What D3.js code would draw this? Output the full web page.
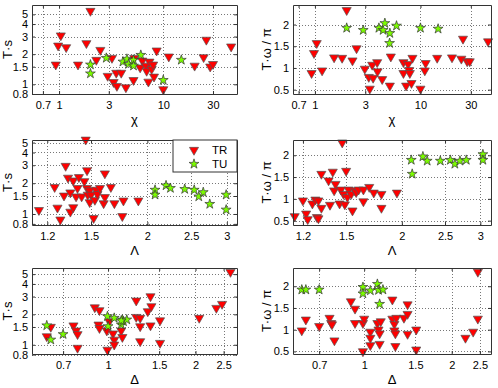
<!DOCTYPE html>
<html>
<head>
<meta charset="utf-8">
<script src="https://cdn.jsdelivr.net/npm/d3@7"></script>
<style>
body { margin: 0; background: #fff; }
text { font-family: "Liberation Sans", Arial, sans-serif; fill: #000; }
</style>
</head>
<body>
<div id="fig"></div>
<script>
// tick values
var chiTicks = [0.7, 1, 3, 10, 30];
var lamTicks = [1.2, 1.5, 2, 2.5, 3];
var delTicks = [0.7, 1, 1.5, 2, 2.5];
var tsTicks = [0.8, 1, 1.5, 2, 3, 4, 5];
var twTicks = [0.5, 1, 1.5, 2];

// T·s vs chi
var tsChiTR = [[0.93,1.57],[0.98,2.43],[1.04,3.07],[1.17,2.34],[1.52,1.57],[1.83,2.57],[2.0,5.4],[2.28,1.75],
  [2.49,2.2],[2.93,1.21],[3.22,1.83],[3.34,1.05],[3.54,1.3],[3.59,0.96],[3.95,1.3],[4.38,0.93],[5.18,1.1],
  [5.26,1.83],[6.0,1.47],[6.3,1.72],[6.84,1.53],[6.93,1.36],[7.2,1.06],[7.37,1.68],[7.74,1.42],[8.0,1.57],
  [8.15,1.19],[8.64,2.17],[10,0.89],[11.3,1.89],[20,1.53],[24.4,1.86],[25.9,2.78],[28.2,1.5],[30,1.59],[44.8,2.38]];
var tsChiTU = [[2.0,1.57],[2.0,1.28],[2.84,1.83],[4.1,1.68],[4.48,1.79],[4.65,1.59],[5.18,1.75],[5.18,1.53],
  [6.09,1.96],[10,1.1],[14.9,1.75]];

// T·w/pi vs chi
var twChiTR = [[0.93,0.88],[0.98,1.34],[1.04,1.57],[1.17,0.94],[1.52,1.24],[1.81,1.23],[2.0,2.33],[2.27,1.17],
  [2.48,1.45],[2.97,0.98],[3.24,0.79],[3.31,0.52],[3.49,1.07],[3.56,0.77],[3.89,1.13],[3.92,0.92],[4.34,0.74],
  [5.13,0.59],[5.24,1.26],[6.9,1.13],[6.9,0.88],[7.31,0.59],[7.64,1.09],[7.81,0.95],[7.93,0.88],[8.22,0.65],
  [8.4,1.23],[10,0.52],[11,0.94],[11.2,1.11],[14.4,1.23],[19.9,1.24],[24.4,1.21],[25.3,1.67],[27.7,1.15],
  [29.3,1.15],[43.7,1.61]];
var twChiTU = [[2.0,1.92],[2.87,1.87],[4.04,1.92],[4.43,1.87],[4.6,2.03],[5.13,1.8],[5.1,1.57],[5.93,1.97],
  [10,1.92],[14.7,1.9]];

// T·s vs Lambda
var tsLamTR = [[1.15,1.09],[1.246,1.83],[1.264,1.15],[1.283,0.88],[1.307,1.51],[1.318,2.95],[1.334,2.26],
  [1.35,1.62],[1.35,1.05],[1.37,2.12],[1.37,1.16],[1.39,1.48],[1.4,1.79],[1.41,2.29],[1.43,1.48],[1.45,2.09],
  [1.46,5.33],[1.47,2.67],[1.47,1.79],[1.475,1.54],[1.49,1.7],[1.49,1.3],[1.5,1.54],[1.52,0.91],[1.53,1.37],
  [1.54,1.72],[1.55,1.56],[1.57,1.79],[1.6,1.27],[1.61,2.49],[1.61,1.46],[1.66,1.83],[1.69,1.27],[1.76,0.95],
  [1.77,1.35],[1.91,1.35]];
var tsLamTU = [[2.08,1.72],[2.08,1.54],[2.2,1.9],[2.25,1.79],[2.42,1.75],[2.54,1.72],[2.6,1.48],[2.66,1.63],
  [2.75,1.25],[2.99,1.54],[2.99,1.1]];

// T·w/pi vs Lambda
var twLamTR = [[1.15,0.6],[1.2,0.96],[1.22,0.66],[1.23,0.53],[1.26,0.89],[1.28,0.98],[1.29,0.58],[1.3,0.96],
  [1.3,0.55],[1.32,0.79],[1.32,1.57],[1.37,1.42],[1.38,0.86],[1.4,1.62],[1.41,1.19],[1.42,1.34],[1.45,0.89],
  [1.46,1.21],[1.47,2.29],[1.48,1.11],[1.49,0.87],[1.5,1.64],[1.51,1.04],[1.52,1.21],[1.54,1.11],[1.55,0.73],
  [1.57,1.19],[1.58,1.15],[1.6,1.21],[1.64,0.94],[1.64,1.21],[1.69,1.27],[1.73,1.14],[1.8,0.79],[1.8,1.11],
  [1.95,1.14]];
var twLamTU = [[2.1,1.89],[2.11,1.57],[2.23,1.97],[2.28,1.87],[2.44,1.87],[2.57,1.89],[2.63,1.8],[2.7,1.87],
  [2.79,1.89],[3.04,2.02],[3.04,1.89]];

// T·s vs Delta
var tsDelTR = [[0.615,1.21],[0.635,1.5],[0.76,1.55],[0.776,1.38],[0.785,1.27],[0.785,0.93],[0.9,2.34],
  [0.934,2.19],[0.927,1.58],[0.934,1.46],[0.99,1.38],[0.995,0.89],[1.01,1.7],[1.04,1.29],[1.05,1.12],
  [1.05,1.0],[1.11,1.38],[1.12,1.19],[1.25,2.73],[1.25,1.88],[1.29,1.84],[1.29,1.52],[1.29,1.08],[1.37,2.14],
  [1.4,3.01],[1.41,2.4],[1.4,1.55],[1.51,1.74],[1.51,1.04],[2.06,1.84],[2.36,2.31],[2.47,2.53],[2.64,5.24]];
var tsDelTU = [[0.615,1.55],[0.635,1.12],[0.7,1.27],[0.995,1.91],[1.0,1.52],[1.05,1.84],[1.11,1.58],
  [1.12,1.77],[1.13,1.7],[1.16,1.77],[1.11,1.73]];

// T·w/pi vs Delta
var twDelTR = [[0.61,0.98],[0.63,1.23],[0.7,1.08],[0.76,1.27],[0.77,1.15],[0.775,1.12],[0.79,0.75],[0.9,1.65],
  [0.93,1.48],[0.93,1.15],[0.99,1.15],[0.99,0.5],[1.0,1.25],[1.05,0.95],[1.05,0.81],[1.05,0.64],[1.11,1.15],
  [1.12,1.0],[1.13,0.91],[1.13,0.67],[1.14,1.19],[1.25,1.69],[1.25,1.25],[1.27,1.13],[1.27,0.98],[1.28,0.91],
  [1.28,0.62],[1.29,1.27],[1.37,1.27],[1.41,1.58],[1.41,1.36],[1.41,0.9],[1.51,1.0],[1.51,0.54],[2.23,0.81],
  [2.37,0.95],[2.46,1.25],[2.46,2.33]];
var twDelTU = [[0.61,1.92],[0.63,1.92],[0.7,1.92],[0.99,1.98],[0.99,1.83],[1.05,1.9],[1.11,2.05],[1.12,1.91],
  [1.16,1.92],[1.13,1.59]];

var width = 498, height = 388;
var redFill = "#ff0000", greenFill = "#7cfc00";

var svg = d3.select("#fig").append("svg")
  .attr("width", width)
  .attr("height", height);

svg.append("rect").attr("width", width).attr("height", height).attr("fill", "#fff");

// panel boxes and scales
var panels = [
  {l: 32, r: 237, t: 5, b: 94, xd: [0.55, 51], xt: chiTicks, yd: [0.8, 6.2], ylog: true, yt: tsTicks,
    xl: "χ", yl: "T·s", tr: tsChiTR, tu: tsChiTU},
  {l: 293, r: 491, t: 5, b: 94, xd: [0.62, 46.6], xt: chiTicks, yd: [0.4, 2.45], ylog: false, yt: twTicks,
    xl: "χ", yl: "T·ω / π", tr: twChiTR, tu: twChiTU},
  {l: 32, r: 237, t: 140, b: 225, xd: [1.11, 3.16], xt: lamTicks, yd: [0.78, 5.3], ylog: true, yt: tsTicks,
    xl: "Λ", yl: "T·s", tr: tsLamTR, tu: tsLamTU, legend: true},
  {l: 293, r: 491, t: 140, b: 225, xd: [1.14, 3.17], xt: lamTicks, yd: [0.4, 2.35], ylog: false, yt: twTicks,
    xl: "Λ", yl: "T·ω / π", tr: twLamTR, tu: twLamTU},
  {l: 32, r: 237, t: 268, b: 354, xd: [0.547, 2.78], xt: delTicks, yd: [0.81, 5.75], ylog: true, yt: tsTicks,
    xl: "Δ", yl: "T·s", tr: tsDelTR, tu: tsDelTU},
  {l: 293, r: 491, t: 268, b: 354, xd: [0.569, 2.73], xt: delTicks, yd: [0.44, 2.42], ylog: false, yt: twTicks,
    xl: "Δ", yl: "T·ω / π", tr: twDelTR, tu: twDelTU}
];

var triangle = d3.symbol().type(d3.symbolTriangle).size(36);
var star = d3.symbol().type(d3.symbolStar).size(30);

panels.forEach(function(p, i) {
  var x = d3.scaleLog().domain(p.xd).range([p.l, p.r]);
  var y = (p.ylog ? d3.scaleLog() : d3.scaleLinear()).domain(p.yd).range([p.b, p.t]);
  var g = svg.append("g");

  // dotted grid
  g.selectAll(".gx").data(p.xt).enter().append("line")
    .attr("x1", d => Math.round(x(d)) + 0.5).attr("x2", d => Math.round(x(d)) + 0.5)
    .attr("y1", p.t).attr("y2", p.b)
    .attr("stroke", "#777").attr("stroke-dasharray", "1,2");
  g.selectAll(".gy").data(p.yt).enter().append("line")
    .attr("y1", d => Math.round(y(d)) + 0.5).attr("y2", d => Math.round(y(d)) + 0.5)
    .attr("x1", p.l).attr("x2", p.r)
    .attr("stroke", "#777").attr("stroke-dasharray", "1,2");

  // markers
  g.selectAll(".tr").data(p.tr).enter().append("path")
    .attr("d", triangle)
    .attr("transform", d => "translate(" + x(d[0]) + "," + y(d[1]) + ") rotate(180)")
    .attr("fill", redFill).attr("stroke", "#555").attr("stroke-width", 0.7);
  g.selectAll(".tu").data(p.tu).enter().append("path")
    .attr("d", star)
    .attr("transform", d => "translate(" + x(d[0]) + "," + y(d[1]) + ")")
    .attr("fill", greenFill).attr("stroke", "#333").attr("stroke-width", 0.7);

  // axes box with inner ticks
  var xAx = d3.axisBottom(x).tickValues(p.xt).tickFormat(d3.format("")).tickSizeInner(-3).tickSizeOuter(0).tickPadding(7);
  var yAx = (d3.axisLeft(y)).tickValues(p.yt).tickFormat(d3.format("")).tickSizeInner(-3).tickSizeOuter(0).tickPadding(4);
  g.append("g").attr("transform", "translate(0," + p.b + ")").call(xAx);
  g.append("g").attr("transform", "translate(" + p.l + ",0)").call(yAx);
  g.append("g").attr("transform", "translate(0," + p.t + ")")
    .call(d3.axisTop(x).tickValues(p.xt).tickFormat("").tickSizeInner(-3).tickSizeOuter(0));
  g.append("g").attr("transform", "translate(" + p.r + ",0)")
    .call(d3.axisRight(y).tickValues(p.yt).tickFormat("").tickSizeInner(-3).tickSizeOuter(0));
  g.selectAll(".domain").attr("stroke", "#333");
  g.selectAll(".tick line").attr("stroke", "#333");
  g.selectAll(".tick text").attr("font-size", "11px").attr("font-family", "Liberation Sans, Arial, sans-serif");

  // axis labels
  g.append("text")
    .attr("x", (p.l + p.r) / 2).attr("y", p.b + 30)
    .attr("text-anchor", "middle").attr("font-size", "13px")
    .text(p.xl);
  var off = (i % 2 === 0) ? 20 : 22;
  g.append("text")
    .attr("transform", "translate(" + (p.l - off) + "," + ((p.t + p.b) / 2) + ") rotate(-90)")
    .attr("text-anchor", "middle").attr("font-size", "13px")
    .text(p.yl);

  if (p.legend) {
    var lg = g.append("g");
    lg.append("rect").attr("x", 173).attr("y", p.t).attr("width", p.r - 173).attr("height", 32)
      .attr("fill", "#fff").attr("stroke", "#333");
    lg.append("path").attr("d", triangle)
      .attr("transform", "translate(194," + (p.t + 10) + ") rotate(180)")
      .attr("fill", redFill).attr("stroke", "#555").attr("stroke-width", 0.7);
    lg.append("path").attr("d", star)
      .attr("transform", "translate(194," + (p.t + 24) + ")")
      .attr("fill", greenFill).attr("stroke", "#333").attr("stroke-width", 0.7);
    lg.append("text").attr("x", 212).attr("y", p.t + 14).attr("font-size", "11.5px").text("TR");
    lg.append("text").attr("x", 212).attr("y", p.t + 28).attr("font-size", "11.5px").text("TU");
  }
});
</script>
</body>
</html>
